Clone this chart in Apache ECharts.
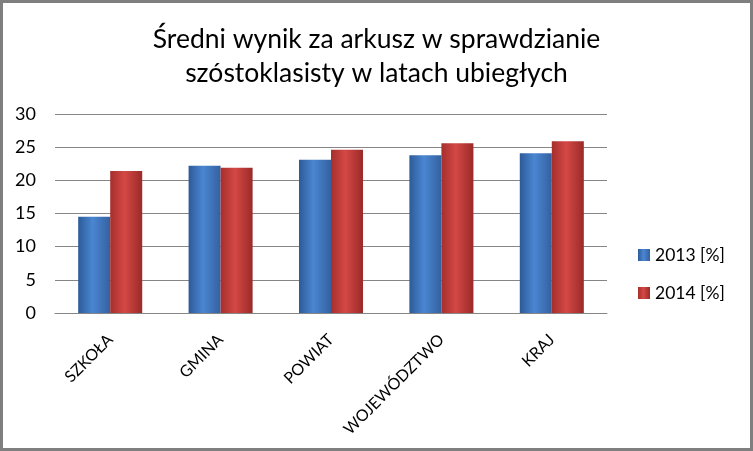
<!DOCTYPE html>
<html>
<head>
<meta charset="utf-8">
<script src="https://cdn.jsdelivr.net/npm/echarts@6/dist/echarts.min.js"></script>
<style>
html,body{margin:0;padding:0;background:#fff;}
#chart{width:753px;height:451px;}
</style>
</head>
<body>
<div id="chart"></div>
<script>
const categories = ['SZKOŁA', 'GMINA', 'POWIAT', 'WOJEWÓDZTWO', 'KRAJ'];
const values2013 = [14.5, 22.2, 23.1, 23.8, 24.1];
const values2014 = [21.4, 21.9, 24.6, 25.6, 25.9];
const seriesNames = ['2013 [%]', '2014 [%]'];
const yTicks = [0, 5, 10, 15, 20, 25, 30];

const FONT = 'Lato, "Open Sans", "DejaVu Sans", sans-serif';

function grad(c1, c2, c3) {
  return new echarts.graphic.LinearGradient(0, 0, 1, 0, [
    {offset: 0, color: c1},
    {offset: 0.45, color: c2},
    {offset: 1, color: c3}
  ]);
}

const chart = echarts.init(document.getElementById('chart'), null, {renderer: 'canvas'});
chart.setOption({
  backgroundColor: '#ffffff',
  animation: false,
  title: {
    text: 'Średni wynik za arkusz w sprawdzianie\nszóstoklasisty w latach ubiegłych',
    left: 'center',
    top: 17,
    textStyle: {fontFamily: FONT, fontWeight: 'normal', fontSize: 26.5, color: '#000', lineHeight: 34}
  },
  graphic: [{
    type: 'rect',
    shape: {x: 1.5, y: 1.5, width: 750, height: 448},
    style: {fill: 'none', stroke: '#7f7f7f', lineWidth: 3},
    silent: true
  }],
  legend: {
    orient: 'vertical',
    left: 633,
    top: 241,
    itemWidth: 12,
    itemHeight: 12,
    itemGap: 20,
    icon: 'rect',
    textStyle: {fontFamily: FONT, fontSize: 17.5, color: '#000'},
    data: seriesNames
  },
  grid: {left: 55, right: 146, top: 114, bottom: 138, containLabel: false},
  xAxis: {
    type: 'category',
    data: categories,
    axisLine: {show: true, lineStyle: {color: '#868686', width: 1}},
    axisTick: {show: false},
    axisLabel: {rotate: 45, margin: 24, fontFamily: FONT, fontSize: 16, color: '#000', interval: 0}
  },
  yAxis: {
    type: 'value',
    min: 0,
    max: 30,
    interval: 5,
    axisLine: {show: false},
    axisTick: {show: false},
    splitLine: {lineStyle: {color: '#868686', width: 1}},
    axisLabel: {margin: 19, fontFamily: FONT, fontSize: 18, color: '#000'}
  },
  series: [
    {
      name: seriesNames[0],
      type: 'bar',
      data: values2013,
      barGap: '0%',
      barCategoryGap: '42%',
      itemStyle: {color: grad('#2d5a98', '#4a86d2', '#34619f')}
    },
    {
      name: seriesNames[1],
      type: 'bar',
      data: values2014,
      barGap: '0%',
      barCategoryGap: '42%',
      itemStyle: {color: grad('#a52f2c', '#d44845', '#9a2a28')}
    }
  ]
});
</script>
</body>
</html>
